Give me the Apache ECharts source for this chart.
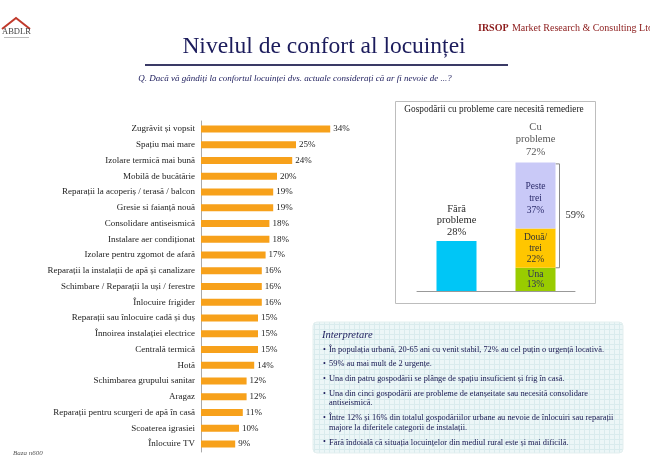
<!DOCTYPE html>
<html><head><meta charset="utf-8">
<script src="https://cdn.jsdelivr.net/npm/echarts@6/dist/echarts.min.js"></script>
<style>html,body{margin:0;padding:0;background:#fff}#c{width:650px;height:461px}</style>
</head><body><div id="c"></div>
<script>
const categories = ["Zugrăvit și vopsit","Spațiu mai mare","Izolare termică mai bună","Mobilă de bucătărie","Reparații la acoperiș / terasă / balcon","Gresie si faianță nouă","Consolidare antiseismică","Instalare aer condiționat","Izolare pentru zgomot de afară","Reparații la instalații de apă și canalizare","Schimbare / Reparații la uși / ferestre","Înlocuire frigider","Reparații sau înlocuire cadă și duș","Înnoirea instalației electrice","Centrală termică","Hotă","Schimbarea grupului sanitar","Aragaz","Reparații pentru scurgeri de apă în casă","Scoaterea igrasiei","Înlocuire TV"];
const values = [34,25,24,20,19,19,18,18,17,16,16,16,15,15,15,14,12,12,11,10,9];

const panelCats = ["Fără probleme","Cu probleme"];
const faraProbleme = [28, null];
const una = [null, 13];
const douaTrei = [null, 22];
const pesteTrei = [null, 37];
const cuProbleme = [null, 72];
const multiple = 59;

const interpretare = [
  ["În populația urbană, 20-65 ani cu venit stabil, 72% au cel puțin o urgență locativă."],
  ["59% au mai mult de 2 urgențe."],
  ["Una din patru gospodării se plânge de spațiu insuficient și frig în casă."],
  ["Una din cinci gospodării are probleme de etanșeitate sau necesită consolidare","antiseismică."],
  ["Între 12% și 16% din totalul gospodăriilor urbane au nevoie de înlocuiri sau reparații","majore la diferitele categorii de instalații."],
  ["Fără îndoială că situația locuințelor din mediul rural este și mai dificilă."]
];

const SERIF = '"Liberation Serif","DejaVu Serif",serif';
const chart = echarts.init(document.getElementById('c'), null, {renderer:'canvas'});

const pc = document.createElement('canvas');
pc.width = 5; pc.height = 5;
const pctx = pc.getContext('2d');
pctx.fillStyle = '#ecf6f7'; pctx.fillRect(0,0,5,5);
pctx.fillStyle = '#d9ebed'; pctx.fillRect(4,0,1,5); pctx.fillRect(0,4,5,1);

const graphics = [];
graphics.push({type:'polyline', shape:{points:[[2,29],[16,18],[30,29]]}, style:{stroke:'#c0392b', lineWidth:2, fill:null}});
graphics.push({type:'text', left:2, top:27, style:{text:'ABDLR', font:'8.5px '+SERIF, fill:'#444'}});
graphics.push({type:'rect', shape:{x:4,y:37,width:25,height:1}, style:{fill:'#bbb'}});
graphics.push({type:'text', left:478, top:22, style:{rich:{b:{fontFamily:SERIF, fontSize:10, fontWeight:'bold', fill:'#8b1a1a'}, n:{fontFamily:SERIF, fontSize:10, fill:'#8b1a1a'}}, text:'{b|IRSOP} {n|Market Research & Consulting Ltd}'}});
graphics.push({type:'text', x:324, y:47, style:{text:'Nivelul de confort al locuinței', font:'23.5px '+SERIF, fill:'#1c1c5c', align:'center', verticalAlign:'middle'}});
graphics.push({type:'rect', shape:{x:145,y:64,width:363,height:2}, style:{fill:'#3a3a66'}});
graphics.push({type:'text', x:295, y:79, style:{text:'Q. Dacă vă gândiți la confortul locuinței dvs. actuale considerați că ar fi nevoie de ...?', font:'italic 9px '+SERIF, fill:'#1c1c5c', align:'center', verticalAlign:'middle'}});
graphics.push({type:'rect', shape:{x:395.5,y:101.5,width:200,height:202}, style:{fill:'none', stroke:'#bdbdbd', lineWidth:1}, z:-1});
graphics.push({type:'text', x:494, y:110, style:{text:'Gospodării cu probleme care necesită remediere', font:'9.3px '+SERIF, fill:'#222', align:'center', verticalAlign:'middle'}});
graphics.push({type:'rect', shape:{x:313,y:322,width:310,height:131,r:4}, style:{fill:{image:pc, repeat:'repeat'}, stroke:'#e3efef', lineWidth:1}, z:-1});
graphics.push({type:'text', left:322, top:330, style:{text:'Interpretare', font:'italic 10.5px '+SERIF, fill:'#1c1c5c'}});
let yy = 349.5;
interpretare.forEach(function(lines){
  graphics.push({type:'text', x:323, y:yy, style:{text:'•', font:'8px '+SERIF, fill:'#1c1c5c', verticalAlign:'middle'}});
  lines.forEach(function(l,i){
    graphics.push({type:'text', x:329, y:yy + i*9.7, style:{text:l, font:'8.4px '+SERIF, fill:'#161650', verticalAlign:'middle'}});
  });
  yy += 14.7 + (lines.length-1)*9.7;
});
graphics.push({type:'text', left:13, top:450, style:{text:'Baza n600', font:'italic 7px '+SERIF, fill:'#555'}});

const segLabel = function(color){ return {show:true, position:'inside', fontFamily:SERIF, fontSize:9.5, lineHeight:11, color:color}; };

chart.setOption({
  animation:false,
  backgroundColor:'#fff',
  grid:[
    {left:201, top:121, width:152, height:331},
    {left:417, top:148.1, width:158, height:142.9}
  ],
  xAxis:[
    {gridIndex:0, type:'value', min:0, max:40, show:false},
    {gridIndex:1, type:'category', data:panelCats, axisLine:{lineStyle:{color:'#999', width:1}}, axisTick:{show:false}, axisLabel:{show:false}}
  ],
  yAxis:[
    {gridIndex:0, type:'category', data:categories, inverse:true,
     axisLine:{lineStyle:{color:'#aaa', width:1}}, axisTick:{show:false},
     axisLabel:{fontFamily:SERIF, fontSize:9, color:'#222', margin:6}},
    {gridIndex:1, type:'value', min:0, max:80, show:false}
  ],
  series:[
    {type:'bar', xAxisIndex:0, yAxisIndex:0, data:values, barWidth:7,
     itemStyle:{color:'#f7a11b'},
     label:{show:true, position:'right', distance:3, formatter:'{c}%', fontFamily:SERIF, fontSize:9, color:'#222'}},
    {type:'bar', name:'Fără\nprobleme', xAxisIndex:1, yAxisIndex:1, stack:'s', data:faraProbleme, barWidth:40,
     itemStyle:{color:'#00c6f6'},
     label:{show:true, position:'top', distance:3, formatter:function(p){return 'Fără\nprobleme\n'+p.value+'%';}, fontFamily:SERIF, fontSize:10.5, lineHeight:11.5, color:'#2a2a2a'}},
    {type:'bar', name:'Una', xAxisIndex:1, yAxisIndex:1, stack:'s', data:una, barWidth:40,
     itemStyle:{color:'#99cc00'},
     label:Object.assign(segLabel('#2b2b5b'), {lineHeight:10, formatter:function(p){return 'Una\n'+p.value+'%';}})},
    {type:'bar', name:'Două/trei', xAxisIndex:1, yAxisIndex:1, stack:'s', data:douaTrei, barWidth:40,
     itemStyle:{color:'#ffc600'},
     label:Object.assign(segLabel('#333'), {formatter:function(p){return 'Două/\ntrei\n'+p.value+'%';}})},
    {type:'bar', name:'Peste trei', xAxisIndex:1, yAxisIndex:1, stack:'s', data:pesteTrei, barWidth:40,
     itemStyle:{color:'#c9c9f7'},
     label:Object.assign(segLabel('#2b2b6b'), {lineHeight:11.7, offset:[0,3], formatter:function(p){return 'Peste\ntrei\n'+p.value+'%';}})},
    {type:'scatter', xAxisIndex:1, yAxisIndex:1, data:cuProbleme, symbolSize:0,
     label:{show:true, position:'top', distance:4, formatter:function(p){return 'Cu\nprobleme\n'+p.value+'%';}, fontFamily:SERIF, fontSize:10.5, lineHeight:12.5, color:'#2a2a2a'}}
  ],
  graphic:graphics
});

const pTop = chart.convertToPixel({gridIndex:1}, [1, cuProbleme[1]]);
const pBot = chart.convertToPixel({gridIndex:1}, [1, una[1]]);
const bx = pTop[0] + 24;
graphics.push({type:'polyline', shape:{points:[[bx-4, pTop[1]+1.5],[bx, pTop[1]+1.5],[bx, pBot[1]],[bx-4, pBot[1]]]}, style:{stroke:'#888', lineWidth:1, fill:null}});
graphics.push({type:'text', x:bx+6, y:(pTop[1]+pBot[1])/2, style:{text:multiple+'%', font:'10.5px '+SERIF, fill:'#333', verticalAlign:'middle'}});
chart.setOption({graphic:graphics});
</script>
</body></html>
